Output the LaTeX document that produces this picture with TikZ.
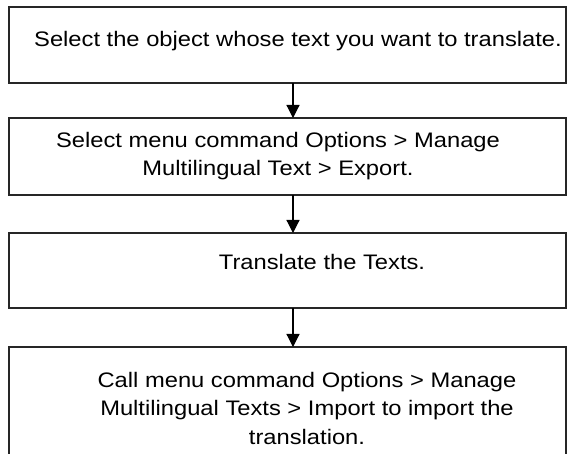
\documentclass[tikz,border=0pt]{standalone}
\usepackage{fontspec}
\setmainfont{Liberation Sans}[FakeStretch=1.13]
\usetikzlibrary{arrows.meta,positioning,calc}

\begin{document}
\begin{tikzpicture}[
  stepbox/.style={rectangle,draw=black!85,line width=1.5pt,outer sep=0pt,
                  inner sep=0pt,minimum width=557pt},
  steptext/.style={align=center,inner sep=0pt,anchor=base,
                   font=\fontsize{21pt}{28.5pt}\selectfont},
  arrow/.style={-{Triangle[width=13pt,length=13pt]},line width=1.2pt,black}
]

\useasboundingbox (0,0) rectangle (568pt,-454pt);
\clip (0,0) rectangle (568pt,-454pt);

% ===== BOXES =====
\node[stepbox,minimum height=76pt] (select) at (287.5pt,-45pt) {};
\node[stepbox,minimum height=77pt,below=35pt of select] (export) {};
\node[stepbox,minimum height=75pt,below=38pt of export] (translate) {};
% last box runs off the bottom of the page
\node[stepbox,minimum height=140pt,below=39pt of translate] (import) {};

% ===== TEXTS =====
% base of a multi-line node sits on its last line
\node[steptext] (select_txt) at ($(select.north)+(10.5pt,-40pt)$)
  {Select the object whose text you want to translate.};
\node[steptext] (export_txt) at ($(export.north)+(-9.5pt,-58pt)$)
  {Select menu command Options > Manage\\Multilingual Text > Export.};
\node[steptext] (translate_txt) at ($(translate.north)+(34.5pt,-37pt)$)
  {Translate the Texts.};
\node[steptext] (import_txt) at ($(import.north)+(19.5pt,-97pt)$)
  {Call menu command Options > Manage\\Multilingual Texts > Import to import the\\translation.};

% ===== ARROWS =====
\foreach \a/\b in {select/export,export/translate,translate/import} {
  \draw[arrow] ([xshift=5.5pt]\a.south) -- ([xshift=5.5pt]\b.north);
}

\end{tikzpicture}
\end{document}
